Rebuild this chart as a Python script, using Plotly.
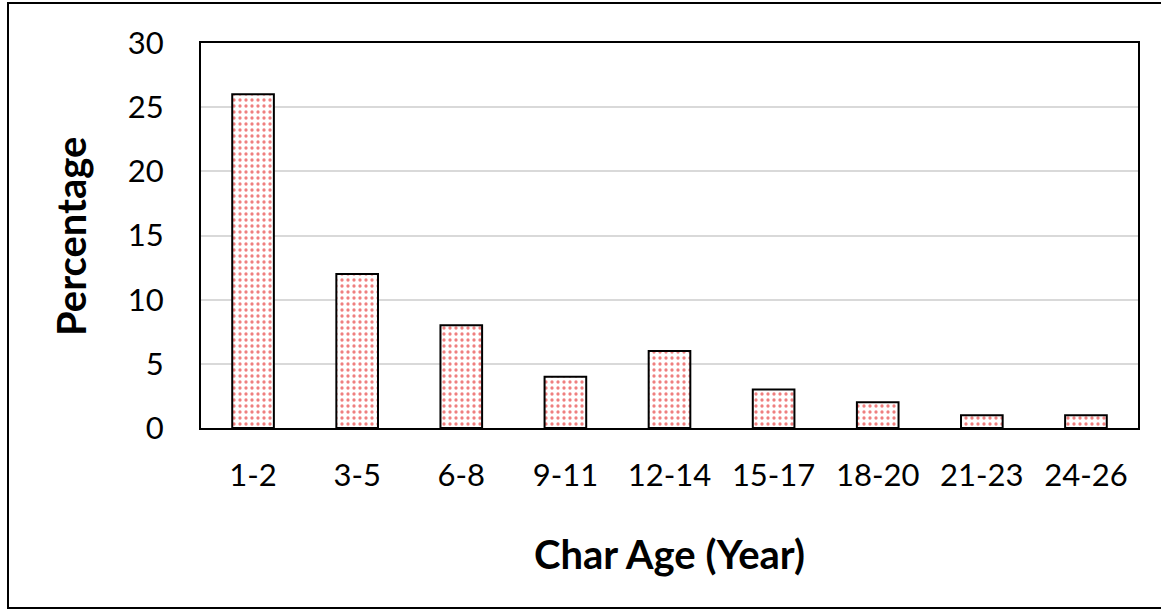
import plotly.graph_objects as go

# Char age classes and share of samples in each class
age_classes = ["1-2", "3-5", "6-8", "9-11", "12-14", "15-17", "18-20", "21-23", "24-26"]
percentages = [26, 12, 8, 4, 6, 3, 2, 1, 1]
y_ticks = [0, 5, 10, 15, 20, 25, 30]

FONT = "Lato, 'Open Sans', sans-serif"

# plot area in pixels
L, R, T, B = 201, 1138, 43, 428
W, H = 1161, 609


def px_x(x):
    return (x - L) / (R - L)


def px_y(y):
    return (B - y) / (B - T)


fig = go.Figure(
    go.Bar(
        x=age_classes,
        y=percentages,
        width=0.4,
        marker=dict(
            color="white",
            line=dict(color="black", width=2),
            pattern=dict(shape=".", fgcolor="#e00000", bgcolor="white",
                         size=6, solidity=0.24, fillmode="overlay"),
        ),
    )
)

fig.update_layout(
    width=W,
    height=H,
    margin=dict(l=L, r=W - R, t=T, b=H - B),
    paper_bgcolor="white",
    plot_bgcolor="white",
    showlegend=False,
    font=dict(family=FONT, size=31, color="black"),
    xaxis=dict(
        showline=True, linecolor="black", linewidth=2, mirror=True,
        showgrid=False, ticks="", ticklabelstandoff=19,
        tickfont=dict(size=31),
    ),
    yaxis=dict(
        range=[0, 30], tickvals=y_ticks,
        showline=True, linecolor="black", linewidth=2, mirror=True,
        showgrid=True, gridcolor="#d9d9d9", gridwidth=1.5,
        ticks="", ticklabelstandoff=29, zeroline=False,
        tickfont=dict(size=31),
    ),
    annotations=[
        dict(text="<b>Char Age (Year)</b>", xref="paper", yref="paper",
             x=px_x(669.5), y=px_y(554), xanchor="center", yanchor="middle",
             showarrow=False, font=dict(size=40)),
        dict(text="<b>Percentage</b>", xref="paper", yref="paper",
             x=px_x(71), y=px_y(237), xanchor="center", yanchor="middle",
             textangle=-90, showarrow=False, font=dict(size=40)),
    ],
    shapes=[
        dict(type="rect", xref="paper", yref="paper",
             x0=px_x(8), x1=px_x(1165), y0=px_y(608), y1=px_y(3),
             line=dict(color="black", width=2), fillcolor="rgba(0,0,0,0)",
             layer="below"),
    ],
)

fig.write_html("out.html")
